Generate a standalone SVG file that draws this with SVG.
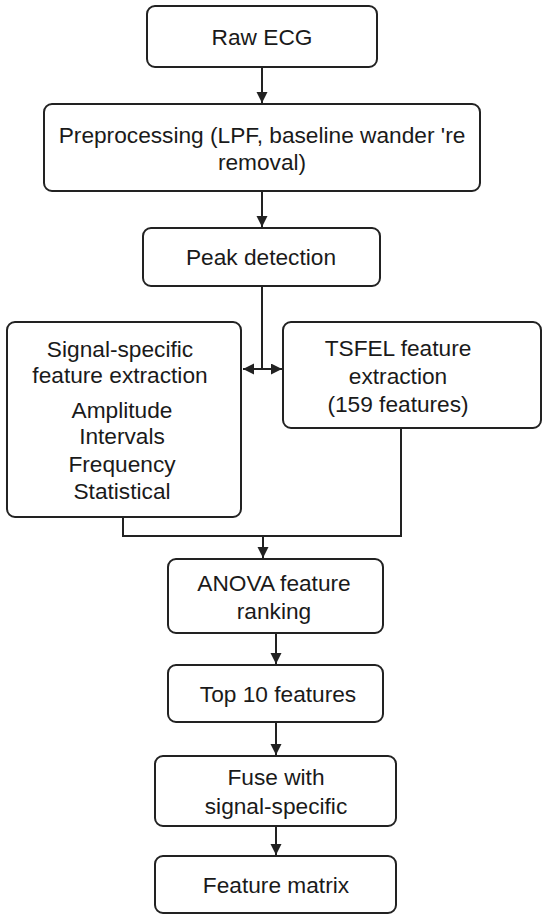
<svg xmlns="http://www.w3.org/2000/svg" width="550" height="920" viewBox="0 0 550 920">
<style>
.box{fill:#fff;stroke:#222;stroke-width:2}
.t{font-family:"Liberation Sans",Arial,sans-serif;font-size:22.7px;fill:#1a1a1a;text-anchor:middle}
.c{fill:none;stroke:#222;stroke-width:2}
</style>
<defs>
<marker id="ah" markerWidth="13" markerHeight="12" refX="11" refY="5.5" orient="auto-start-reverse" markerUnits="userSpaceOnUse">
<path d="M0,0 L11,5.5 L0,11 Z" fill="#222"/>
</marker>
</defs>
<rect width="550" height="920" fill="#fff"/>
<g id="connectors">
<line class="c" x1="262" y1="67" x2="262" y2="103" marker-end="url(#ah)"/>
<line class="c" x1="262" y1="191" x2="262" y2="227" marker-end="url(#ah)"/>
<line class="c" x1="262" y1="286" x2="262" y2="369"/>
<line class="c" x1="243" y1="369" x2="282" y2="369" marker-start="url(#ah)" marker-end="url(#ah)"/>
<polyline class="c" points="123,517 123,536 401,536 401,428"/>
<line class="c" x1="263" y1="536" x2="263" y2="558" marker-end="url(#ah)"/>
<line class="c" x1="276" y1="633" x2="276" y2="664" marker-end="url(#ah)"/>
<line class="c" x1="276" y1="722" x2="276" y2="755" marker-end="url(#ah)"/>
<line class="c" x1="276" y1="826" x2="276" y2="855" marker-end="url(#ah)"/>
</g>
<g id="raw-ecg">
<rect class="box" x="147" y="6" width="230" height="61" rx="8"/>
<text class="t" x="262" y="45">Raw ECG</text>
</g>
<g id="preprocessing">
<rect class="box" x="44" y="104" width="436" height="87" rx="8"/>
<text class="t" x="262" y="143">Preprocessing (LPF, baseline wander 're</text>
<text class="t" x="262" y="170">removal)</text>
</g>
<g id="peak-detection">
<rect class="box" x="143" y="228" width="237" height="58" rx="8"/>
<text class="t" x="261" y="265">Peak detection</text>
</g>
<g id="signal-specific">
<rect class="box" x="7" y="322" width="234" height="195" rx="8"/>
<text class="t" x="120" y="357">Signal-specific</text>
<text class="t" x="120" y="383">feature extraction</text>
<text class="t" x="122" y="418">Amplitude</text>
<text class="t" x="122" y="444">Intervals</text>
<text class="t" x="122" y="472">Frequency</text>
<text class="t" x="122" y="499">Statistical</text>
</g>
<g id="tsfel">
<rect class="box" x="283" y="322" width="258" height="106" rx="8"/>
<text class="t" x="398" y="356">TSFEL feature</text>
<text class="t" x="398" y="384">extraction</text>
<text class="t" x="398" y="412">(159 features)</text>
</g>
<g id="anova">
<rect class="box" x="168" y="559" width="215" height="74" rx="8"/>
<text class="t" x="274" y="591">ANOVA feature</text>
<text class="t" x="274" y="619">ranking</text>
</g>
<g id="top10">
<rect class="box" x="168" y="665" width="215" height="57" rx="8"/>
<text class="t" x="278" y="702">Top 10 features</text>
</g>
<g id="fuse">
<rect class="box" x="155" y="756" width="241" height="70" rx="8"/>
<text class="t" x="276" y="785">Fuse with</text>
<text class="t" x="276" y="814">signal-specific</text>
</g>
<g id="feature-matrix">
<rect class="box" x="155" y="856" width="241" height="57" rx="8"/>
<text class="t" x="276" y="893">Feature matrix</text>
</g>
</svg>
